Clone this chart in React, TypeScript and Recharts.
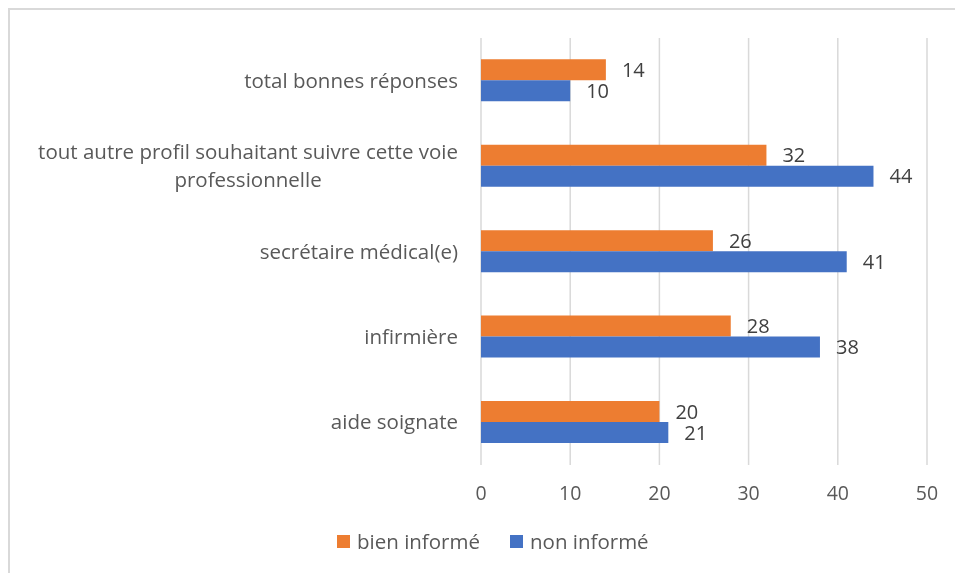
import { Bar, BarChart, CartesianGrid, LabelList, Legend, XAxis, YAxis } from 'recharts';

const categories = [
  'total bonnes réponses',
  'tout autre profil souhaitant suivre cette voie professionnelle',
  'secrétaire médical(e)',
  'infirmière',
  'aide soignate',
];
const bienInforme = [14, 32, 26, 28, 20];
const nonInforme = [10, 44, 41, 38, 21];
const xTicks = [0, 10, 20, 30, 40, 50];

const series = [
  { key: 'bien', label: 'bien informé', color: '#ED7D31' },
  { key: 'non', label: 'non informé', color: '#4472C4' },
];

const data = categories.map((c, i) => ({ name: c, bien: bienInforme[i], non: nonInforme[i] }));

const FONT = '"Open Sans", sans-serif';
const TEXT = '#595959';
const LABEL_SIZE = 20.5;

let ctx: CanvasRenderingContext2D | null = null;
function textWidth(s: string, size: number) {
  if (!ctx) ctx = document.createElement('canvas').getContext('2d');
  if (!ctx) return s.length * size * 0.5;
  ctx.font = `${size}px "Open Sans"`;
  return ctx.measureText(s).width;
}

// wrap long category labels; Excel centres the lines inside a right-aligned block
function wrap(label: string, max = 46) {
  const lines: string[] = [];
  let cur = '';
  for (const w of label.split(' ')) {
    const next = cur ? `${cur} ${w}` : w;
    if (next.length > max && cur) {
      lines.push(cur);
      cur = w;
    } else cur = next;
  }
  if (cur) lines.push(cur);
  return lines;
}

function CategoryTick(props: { x?: number; y?: number; payload?: { value: string } }) {
  const { x = 0, y = 0, payload } = props;
  const lines = wrap(payload?.value ?? '');
  const lh = 28;
  const blockW = Math.max(...lines.map((l) => textWidth(l, LABEL_SIZE)));
  const cx = lines.length > 1 ? x - blockW / 2 : x;
  return (
    <text
      x={cx}
      y={y}
      textAnchor={lines.length > 1 ? 'middle' : 'end'}
      fill={TEXT}
      fontSize={LABEL_SIZE}
      fontFamily={FONT}
    >
      {lines.map((l, i) => (
        <tspan key={i} x={cx} dy={i === 0 ? -((lines.length - 1) * lh) / 2 + 7 : lh}>
          {l}
        </tspan>
      ))}
    </text>
  );
}

function LegendContent() {
  return (
    <div
      style={{
        display: 'flex',
        alignItems: 'center',
        paddingTop: 24,
        paddingLeft: 327,
        fontFamily: FONT,
        fontSize: LABEL_SIZE,
        color: TEXT,
        lineHeight: '24px',
        whiteSpace: 'nowrap',
      }}
    >
      {series.map((s, i) => (
        <span key={s.key} style={{ display: 'flex', alignItems: 'center', marginLeft: i ? 30 : 0 }}>
          <span style={{ width: 13, height: 13, background: s.color, marginRight: 7 }} />
          {s.label}
        </span>
      ))}
    </div>
  );
}

export default function App() {
  return (
    // fixed so the frame can run off the right/bottom edge without scrollbars
    <div
      style={{
        position: 'fixed',
        left: 8,
        top: 8,
        width: 947,
        height: 565,
        boxSizing: 'border-box',
        borderTop: '2px solid #d9d9d9',
        borderLeft: '2px solid #d9d9d9',
      }}
    >
      <BarChart
        width={945}
        height={563}
        data={data}
        layout="vertical"
        barCategoryGap="25%"
        barGap={0}
        margin={{ top: 28, right: 28, bottom: 20, left: 11 }}
      >
        <CartesianGrid stroke="#d9d9d9" strokeWidth={1.5} horizontal={false} />
        <XAxis
          type="number"
          domain={[0, 50]}
          ticks={xTicks}
          interval={0}
          axisLine={false}
          tickLine={false}
          tickMargin={15}
          height={40}
          tick={{ fill: TEXT, fontSize: 19.5, fontFamily: FONT }}
        />
        <YAxis
          type="category"
          dataKey="name"
          width={460}
          axisLine={false}
          tickLine={false}
          tickMargin={17}
          interval={0}
          tick={<CategoryTick />}
        />
        <Legend
          verticalAlign="bottom"
          height={48}
          content={<LegendContent />}
          wrapperStyle={{ left: 0, width: 945 }}
        />
        {series.map((s) => (
          <Bar key={s.key} dataKey={s.key} name={s.label} fill={s.color} isAnimationActive={false}>
            <LabelList
              dataKey={s.key}
              position="right"
              offset={16}
              fill="#404040"
              fontSize={20}
              fontFamily={FONT}
            />
          </Bar>
        ))}
      </BarChart>
    </div>
  );
}
